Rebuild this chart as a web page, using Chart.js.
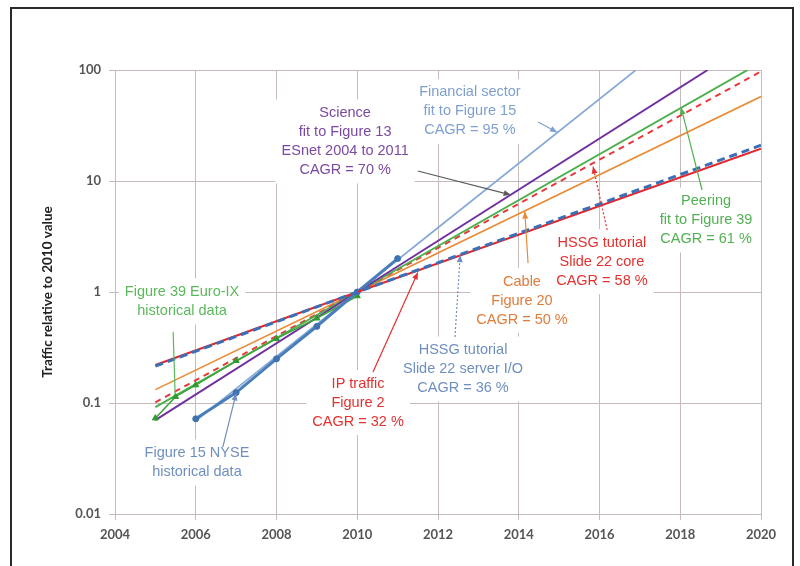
<!DOCTYPE html>
<html>
<head>
<meta charset="utf-8">
<script src="https://cdn.jsdelivr.net/npm/chart.js@4/dist/chart.umd.min.js"></script>
<style>
  html, body { margin: 0; padding: 0; background: #ffffff; }
  canvas { display: block; }
</style>
</head>
<body>
<canvas id="traffic" width="800" height="566"></canvas>
<script>
// Axis ticks
const yearTicks = [2004, 2006, 2008, 2010, 2012, 2014, 2016, 2018, 2020];
const yearTickLabels = ['2004', '2006', '2008', '2010', '2012', '2014', '2016', '2018', '2020'];
const decadeTicks = [0.01, 0.1, 1, 10, 100];
const decadeTickLabels = ['0.01', '0.1', '1', '10', '100'];

// Historical data, relative to 2010
const nyseYears = [2006, 2007, 2008, 2009, 2010, 2011];
const nyseValues = [0.072, 0.124, 0.25, 0.49, 1, 2.0];
const euroIxYears = [2005, 2005.5, 2006, 2007, 2008, 2009, 2010];
const euroIxValues = [0.073, 0.114, 0.145, 0.24, 0.38, 0.58, 0.92];

// Growth fits (straight on a log axis): start, 2010 pivot, end
const financialYears = [2006, 2010, 2016.9];
const financialValues = [0.069, 1, 100];
const scienceYears = [2005, 2010, 2018.68];
const scienceValues = [0.070, 1, 100];
const peeringYears = [2005, 2010, 2019.67];
const peeringValues = [0.092, 1, 100];
const coreYears = [2005, 2010, 2020];
const coreValues = [0.1015, 1, 97];
const cableYears = [2005, 2010, 2020];
const cableValues = [0.132, 1, 57.7];
const serverYears = [2005, 2010, 2020];
const serverValues = [0.215, 1, 21.0];
const ipYears = [2005, 2010, 2020];
const ipValues = [0.22, 1, 19.5];

function pts(xs, ys) { return xs.map((x, i) => ({ x: x, y: ys[i] })); }

const GRID = '#c6baba';
const TICK_FONT = { family: 'Lato, "Open Sans", sans-serif', weight: 'bold', size: 13 };
const NOTE_FONT = '14.5px "Liberation Sans", Arial, sans-serif';

// Callout labels with their leader lines (positions in data units)
const notes = [
  { lines: ['Science', 'fit to Figure 13', 'ESnet 2004 to 2011', 'CAGR = 70 %'], color: '#7b4aa0',
    at: [2009.70, 22.7], from: [2011.5, 12.3], to: [2013.8, 7.5], leader: '#5c5c5c', arrow: true },
  { lines: ['Financial sector', 'fit to Figure 15', 'CAGR = 95 %'], color: '#7f9fcf',
    at: [2012.79, 42.3], from: [2014.48, 34], to: [2014.95, 27.5], leader: '#7f9fcf', arrow: true },
  { lines: ['Peering', 'fit to Figure 39', 'CAGR = 61 %'], color: '#52b152',
    at: [2018.64, 4.45], from: [2018.54, 8.3], to: [2018.02, 46], leader: '#52b152', arrow: true },
  { lines: ['HSSG tutorial', 'Slide 22 core', 'CAGR = 58 %'], color: '#e2312f',
    at: [2016.06, 1.88], from: [2016.19, 3.62], to: [2015.84, 13.5], leader: '#e2312f', arrow: true, dotted: true },
  { lines: ['Cable', 'Figure 20', 'CAGR = 50 %'], color: '#e07b39',
    at: [2014.08, 0.838], from: [2014.23, 1.82], to: [2014.15, 5.3], leader: '#e98a35', arrow: true },
  { lines: ['HSSG tutorial', 'Slide 22 server I/O', 'CAGR = 36 %'], color: '#6f8fbf',
    at: [2012.62, 0.2024], from: [2012.42, 0.393], to: [2012.55, 2.15], leader: '#6f8fbf', arrow: true, dotted: true },
  { lines: ['IP traffic', 'Figure 2', 'CAGR = 32 %'], color: '#e2312f',
    at: [2010.02, 0.101], from: [2010.39, 0.19], to: [2011.5, 1.5], leader: '#e2312f', arrow: true },
  { lines: ['Figure 39 Euro-IX', 'historical data'], color: '#5cb85c',
    at: [2005.66, 0.821], from: [2005.44, 0.436], to: [2005.49, 0.118], leader: '#5cb85c', arrow: false },
  { lines: ['Figure 15 NYSE', 'historical data'], color: '#6f8fbf',
    at: [2006.03, 0.0291], from: [2006.67, 0.04], to: [2007.0, 0.122], leader: '#6f8fbf', arrow: true }
];

const LINE_H = 19;

const pagePlugin = {
  id: 'page',
  beforeDraw(chart) {
    const ctx = chart.ctx;
    ctx.save();
    ctx.fillStyle = '#ffffff';
    ctx.fillRect(0, 0, chart.width, chart.height);
    ctx.restore();
  },
  afterDraw(chart) {
    const ctx = chart.ctx;
    ctx.save();
    // outer frame
    ctx.strokeStyle = '#2a2a2a';
    ctx.lineWidth = 2;
    ctx.strokeRect(11, 8, 782, 600);
    // y-axis title
    ctx.translate(48, 292);
    ctx.rotate(-Math.PI / 2);
    ctx.fillStyle = '#222222';
    ctx.font = 'bold 13.5px Lato, "Open Sans", sans-serif';
    ctx.textAlign = 'center';
    ctx.textBaseline = 'middle';
    ctx.fillText('Traffic relative to 2010 value', 0, 0);
    ctx.restore();
  }
};

const notesPlugin = {
  id: 'notes',
  beforeDatasetsDraw(chart) {
    const { ctx, scales } = chart;
    ctx.save();
    ctx.font = NOTE_FONT;
    ctx.textAlign = 'center';
    ctx.textBaseline = 'middle';
    const placed = notes.map(n => {
      const cx = scales.x.getPixelForValue(n.at[0]);
      const cy = scales.y.getPixelForValue(n.at[1]);
      const w = Math.max(...n.lines.map(l => ctx.measureText(l).width));
      const h = n.lines.length * LINE_H;
      return { n, cx, cy, w, h };
    });
    // white backing first, so no box hides a neighbour's text
    ctx.fillStyle = '#ffffff';
    placed.forEach(p => ctx.fillRect(p.cx - p.w / 2 - 6, p.cy - p.h / 2 - 4, p.w + 12, p.h + 8));
    placed.forEach(p => {
      ctx.fillStyle = p.n.color;
      p.n.lines.forEach((l, i) => ctx.fillText(l, p.cx, p.cy - p.h / 2 + LINE_H * (i + 0.5)));
    });
    ctx.restore();
  },
  afterDatasetsDraw(chart) {
    const { ctx, scales } = chart;
    ctx.save();
    notes.forEach(n => {
      const x1 = scales.x.getPixelForValue(n.from[0]);
      const y1 = scales.y.getPixelForValue(n.from[1]);
      const x2 = scales.x.getPixelForValue(n.to[0]);
      const y2 = scales.y.getPixelForValue(n.to[1]);
      ctx.strokeStyle = n.leader;
      ctx.fillStyle = n.leader;
      ctx.lineWidth = 1.2;
      ctx.setLineDash(n.dotted ? [2, 2] : []);
      ctx.beginPath();
      ctx.moveTo(x1, y1);
      ctx.lineTo(x2, y2);
      ctx.stroke();
      ctx.setLineDash([]);
      if (n.arrow) {
        const a = Math.atan2(y2 - y1, x2 - x1);
        const len = 7, half = 3;
        ctx.beginPath();
        ctx.moveTo(x2, y2);
        ctx.lineTo(x2 - len * Math.cos(a) + half * Math.sin(a), y2 - len * Math.sin(a) - half * Math.cos(a));
        ctx.lineTo(x2 - len * Math.cos(a) - half * Math.sin(a), y2 - len * Math.sin(a) + half * Math.cos(a));
        ctx.closePath();
        ctx.fill();
      }
    });
    ctx.restore();
  }
};

const plain = { pointRadius: 0, tension: 0, fill: false };

new Chart(document.getElementById('traffic'), {
  type: 'line',
  data: {
    datasets: [
      Object.assign({ label: 'HSSG tutorial Slide 22 server I/O', data: pts(serverYears, serverValues),
        borderColor: '#3b6fb6', borderWidth: 3, borderDash: [8, 5], order: 1 }, plain),
      Object.assign({ label: 'IP traffic Figure 2', data: pts(ipYears, ipValues),
        borderColor: '#e3262c', borderWidth: 2, order: 2 }, plain),
      { label: 'Figure 15 NYSE historical data', data: pts(nyseYears, nyseValues),
        borderColor: '#4a7ebb', borderWidth: 3, pointRadius: 3, pointStyle: 'circle',
        pointBackgroundColor: '#3f72b0', pointBorderColor: '#3f72b0', pointBorderWidth: 1,
        tension: 0, fill: false, order: 3 },
      { label: 'Figure 39 Euro-IX historical data', data: pts(euroIxYears, euroIxValues),
        borderColor: '#3aa53a', borderWidth: 1.5, pointRadius: 3.5, pointStyle: 'triangle',
        pointBackgroundColor: '#2f9a2f', pointBorderColor: '#2f9a2f', pointBorderWidth: 1,
        tension: 0, fill: false, order: 4 },
      Object.assign({ label: 'Financial sector fit', data: pts(financialYears, financialValues),
        borderColor: '#86a8d8', borderWidth: 1.6, order: 5 }, plain),
      Object.assign({ label: 'Science fit', data: pts(scienceYears, scienceValues),
        borderColor: '#7030a0', borderWidth: 2, order: 6 }, plain),
      Object.assign({ label: 'Peering fit', data: pts(peeringYears, peeringValues),
        borderColor: '#4bb04b', borderWidth: 2, order: 7 }, plain),
      Object.assign({ label: 'HSSG tutorial Slide 22 core', data: pts(coreYears, coreValues),
        borderColor: '#e8393a', borderWidth: 2, borderDash: [6, 5], order: 8 }, plain),
      Object.assign({ label: 'Cable Figure 20', data: pts(cableYears, cableValues),
        borderColor: '#e98a35', borderWidth: 1.6, order: 9 }, plain)
    ]
  },
  options: {
    responsive: false,
    animation: false,
    layout: { padding: { left: 0, right: 39, top: 70, bottom: 0 } },
    plugins: { legend: { display: false }, tooltip: { enabled: false } },
    scales: {
      x: {
        type: 'linear', min: 2004, max: 2020,
        afterBuildTicks: s => { s.ticks = yearTicks.map(v => ({ value: v })); },
        afterFit: s => { s.height = 52; },
        ticks: { autoSkip: false, maxRotation: 0, padding: 7, color: '#555555', font: TICK_FONT,
          callback: (v, i) => yearTickLabels[i] },
        grid: { color: GRID, tickLength: 6, lineWidth: 1 },
        border: { color: GRID }
      },
      y: {
        type: 'logarithmic', min: 0.01, max: 100,
        afterBuildTicks: s => { s.ticks = decadeTicks.map(v => ({ value: v })); },
        afterFit: s => { s.width = 115; },
        ticks: { autoSkip: false, padding: 8, color: '#555555', font: TICK_FONT,
          callback: (v, i) => decadeTickLabels[i] },
        grid: { color: GRID, tickLength: 6, lineWidth: 1 },
        border: { color: GRID }
      }
    }
  },
  plugins: [pagePlugin, notesPlugin]
});
</script>
</body>
</html>
